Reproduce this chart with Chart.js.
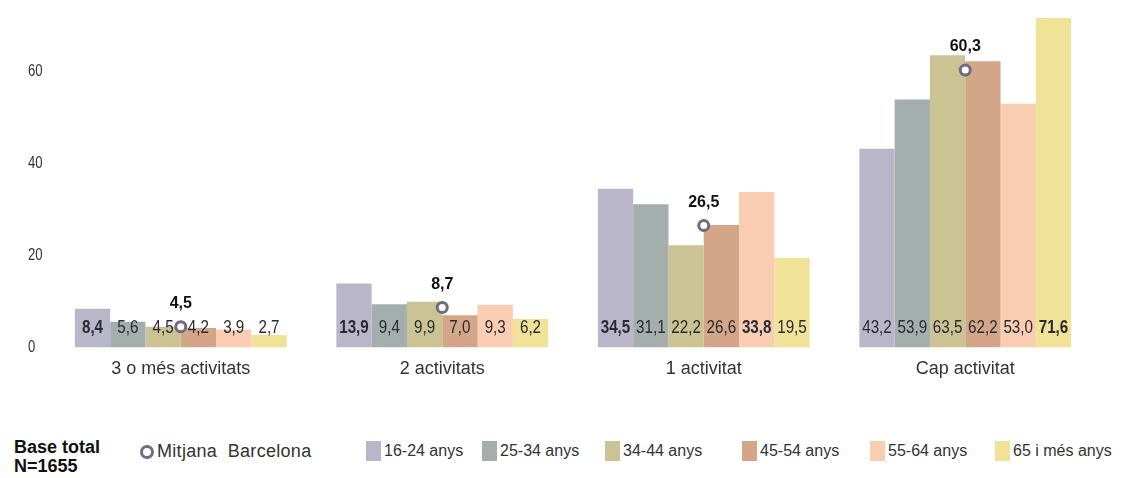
<!DOCTYPE html>
<html>
<head>
<meta charset="utf-8">
<script src="https://cdn.jsdelivr.net/npm/chart.js@4.4.1/dist/chart.umd.min.js"></script>
<style>
    body { margin: 0; background: #fff; font-family: "Liberation Sans", Arial, sans-serif; }
    #wrap { position: relative; width: 1134px; height: 391px; }
    #legend { position: absolute; left: 0; top: 437px; width: 1134px; height: 41px; font-size: 16px; color: #333; }
    #legend .item { position: absolute; top: 4px; display: flex; align-items: center; white-space: nowrap; }
    #legend .box { width: 15px; height: 20px; margin-right: 3px; }
    #legend .ring { width: 8px; height: 8px; border: 3px solid #6f6b82; border-radius: 50%; margin-right: 3px; }
    #base { position: absolute; left: 14px; top: 1px; font-size: 18px; font-weight: bold; color: #111; line-height: 19px; }
</style>
</head>
<body>
<div id="wrap"><canvas id="activitatsChart"></canvas></div>
<div id="legend"><div id="base">Base total<br>N=1655</div></div>
<script>
const categories = ['3 o més activitats', '2 activitats', '1 activitat', 'Cap activitat'];
const grups = ['16-24 anys', '25-34 anys', '34-44 anys', '45-54 anys', '55-64 anys', '65 i més anys'];
const colors = ['#bab6c9', '#a4aeac', '#cbc393', '#d3a687', '#f8cdb1', '#f0e296'];

const v1624 = [8.4, 13.9, 34.5, 43.2];
const v2534 = [5.6, 9.4, 31.1, 53.9];
const v3444 = [4.5, 9.9, 22.2, 63.5];
const v4554 = [4.2, 7.0, 26.6, 62.2];
const v5564 = [3.9, 9.3, 33.8, 53.0];
const v65 = [2.7, 6.2, 19.5, 71.6];
const mitjana = [4.5, 8.7, 26.5, 60.3];

// valors destacats en negreta
const negreta = [
    [true, true, true, false],
    [false, false, false, false],
    [false, false, false, false],
    [false, false, false, false],
    [false, false, true, false],
    [false, false, false, true]
];

const yTicks = [0, 20, 40, 60];
const series = [v1624, v2534, v3444, v4554, v5564, v65];

const fmt = v => v.toFixed(1).replace('.', ',');
const FONT = '"Liberation Sans", Arial, sans-serif';

// text estret (tipus Arial Narrow)
function narrowText(ctx, txt, x, y, font, sx) {
    ctx.save();
    ctx.font = font;
    ctx.translate(x, y);
    ctx.scale(sx, 1);
    ctx.fillText(txt, 0, 0);
    ctx.restore();
}

const etiquetes = {
    id: 'etiquetes',
    afterDatasetsDraw(chart) {
        const { ctx } = chart;
        const yScale = chart.scales.y;
        const y0 = yScale.getPixelForValue(0);
        ctx.save();
        ctx.textBaseline = 'middle';

        // eix Y
        ctx.textAlign = 'left';
        ctx.fillStyle = '#333';
        yTicks.forEach(v => narrowText(ctx, String(v), 28, yScale.getPixelForValue(v), '16px ' + FONT, 0.82));

        // valors dins les barres
        ctx.textAlign = 'center';
        ctx.fillStyle = '#2a2a33';
        series.forEach((vals, s) => {
            chart.getDatasetMeta(s + 1).data.forEach((bar, i) => {
                const f = (negreta[s][i] ? 'bold ' : '') + '19px ' + FONT;
                narrowText(ctx, fmt(vals[i]), bar.x, y0 - 20, f, 0.8);
            });
        });

        // mitjana
        ctx.fillStyle = '#111';
        ctx.font = 'bold 16px ' + FONT;
        chart.getDatasetMeta(0).data.forEach((pt, i) => {
            ctx.fillText(fmt(mitjana[i]), pt.x, pt.y - 23);
        });
        ctx.restore();
    }
};

const datasets = [{
    type: 'line',
    label: 'Mitjana Barcelona',
    data: mitjana,
    showLine: false,
    pointStyle: 'circle',
    pointRadius: 5,
    pointBorderWidth: 3,
    pointBorderColor: '#6f6b82',
    pointBackgroundColor: '#ffffff',
    order: 0
}];
series.forEach((vals, s) => datasets.push({
    type: 'bar',
    label: grups[s],
    data: vals,
    backgroundColor: colors[s],
    barPercentage: 1,
    categoryPercentage: 0.81,
    order: 1
}));

new Chart(document.getElementById('activitatsChart'), {
    data: { labels: categories, datasets },
    plugins: [etiquetes],
    options: {
        responsive: true,
        maintainAspectRatio: false,
        animation: false,
        layout: { padding: { left: 0, right: 38, top: 0, bottom: 0 } },
        plugins: { legend: { display: false }, tooltip: { enabled: false } },
        scales: {
            x: {
                grid: { display: false, drawTicks: false },
                border: { display: false },
                ticks: { padding: 11, color: '#333', font: { size: 18, family: FONT } }
            },
            y: {
                min: 0,
                max: 73.8,
                afterFit: scale => { scale.width = 50; },
                grid: { display: false, drawTicks: false },
                border: { display: false },
                ticks: { display: false }
            }
        }
    }
});

// llegenda
const legend = document.getElementById('legend');
const posLlegenda = [366, 482, 605, 742, 870, 995];
const mit = document.createElement('div');
mit.className = 'item';
mit.style.left = '140px';
mit.innerHTML = '<span class="ring"></span><span style="font-size:18px;letter-spacing:0.3px">Mitjana&nbsp; Barcelona</span>';
legend.appendChild(mit);
grups.forEach((g, s) => {
    const it = document.createElement('div');
    it.className = 'item';
    it.style.left = posLlegenda[s] + 'px';
    it.innerHTML = `<span class="box" style="background:${colors[s]}"></span><span>${g}</span>`;
    legend.appendChild(it);
});
</script>
</body>
</html>
